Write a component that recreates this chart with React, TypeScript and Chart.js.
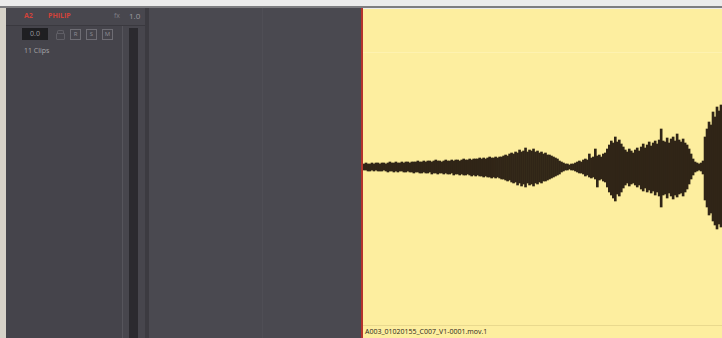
import React, { useEffect, useRef } from "react";
import { Chart, registerables } from "chart.js";
Chart.register(...registerables);

// Waveform envelope, sampled every ~2px across the clip (amplitude in px from centre)
const upper = [
  3, 4, 3, 3, 4, 3, 4, 4, 3, 4, 4, 3, 4, 5, 4, 4, 5, 4, 4, 5, 4, 5, 5, 4, 5, 5,
  5, 6, 5, 5, 6, 5, 6, 6, 5, 6, 7, 6, 6, 5, 6, 7, 6, 6, 7, 6, 7, 7, 6, 7, 8, 7, 7, 8, 7, 8,
  8, 8, 9, 8, 9, 8, 9, 10, 9, 9, 10, 9, 10, 10,
  11, 12, 11, 13, 14, 13, 15, 14, 17, 15, 16, 19, 15, 17, 16, 18, 15, 16, 14, 15, 13, 14, 12, 12, 11, 10, 9, 8, 6, 5,
  4, 3, 3, 2, 3, 3, 4,
  5, 6, 5, 7, 8, 7, 13, 9, 10, 18, 11, 12, 10, 13, 14,
  18, 22, 26, 24, 30, 25, 27, 23, 20,
  17, 15, 18, 16, 14, 17, 19, 16,
  20, 23, 19, 22, 25, 21, 24, 26, 23, 27,
  38, 26,
  25, 29, 24, 28, 30, 26, 33, 27, 25, 28, 24, 22, 18,
  13, 8, 5, 4, 3, 4, 6,
  30, 38, 45, 42, 55, 50, 60, 56, 62,
];
const lower = [
  3, 3, 4, 4, 3, 4, 3, 4, 4, 4, 3, 4, 5, 4, 4, 5, 4, 5, 4, 4, 5, 5, 4, 5, 5, 6,
  5, 5, 6, 6, 5, 6, 6, 5, 7, 6, 6, 7, 6, 6, 7, 6, 7, 7, 6, 8, 7, 7, 8, 7, 8, 8, 7, 8, 9, 8,
  9, 8, 9, 9, 10, 9, 10, 10, 11, 10, 11, 10, 11, 12,
  12, 13, 14, 13, 15, 16, 15, 18, 16, 19, 17, 20, 16, 18, 17, 19, 16, 17, 15, 16, 14, 14, 13, 12, 11, 10, 9, 8, 7, 5,
  4, 3, 3, 2, 3, 3, 4,
  5, 6, 6, 7, 9, 8, 10, 11, 10, 12, 20, 13, 12, 14, 15,
  20, 25, 28, 31, 34, 27, 29, 25, 21,
  18, 16, 19, 17, 16, 18, 20, 18,
  22, 24, 21, 25, 23, 26, 24, 28, 25, 29,
  40, 28,
  27, 31, 26, 29, 32, 28, 30, 27, 26, 29, 25, 22, 17,
  12, 8, 5, 4, 3, 4, 7,
  33, 40, 48, 46, 54, 58, 62, 57, 60,
];
const samples = upper.map((_, i) => String(i));

const trackName = "PHILIP";
const trackId = "A2";
const clipCount = "11 Clips";
const clipName = "A003_01020155_C007_V1-0001.mov.1";

const WAVE = "#302517";

function Waveform() {
  const ref = useRef<HTMLCanvasElement>(null);
  useEffect(() => {
    if (!ref.current) return;
    const chart = new Chart(ref.current, {
      type: "bar",
      data: {
        labels: samples,
        datasets: [
          {
            data: upper.map((u, i) => [-lower[i], u]),
            backgroundColor: WAVE,
            borderWidth: 0,
            barPercentage: 1,
            categoryPercentage: 1,
          },
        ],
      },
      options: {
        responsive: false,
        animation: false,
        layout: { padding: 0 },
        plugins: { legend: { display: false }, tooltip: { enabled: false } },
        scales: {
          x: { display: false },
          y: { display: false, min: -158, max: 158 },
        },
      },
    });
    return () => chart.destroy();
  }, []);
  return (
    <canvas
      ref={ref}
      width={359}
      height={316}
      style={{ position: "absolute", left: 0, top: 0, width: 359, height: 316 }}
    />
  );
}

const font = "'Open Sans', 'DejaVu Sans', sans-serif";

function Btn({ x, t }: { x: number; t: string }) {
  return (
    <div
      style={{
        position: "absolute",
        left: x,
        top: 29,
        width: 9,
        height: 9,
        border: "1px solid #6e6d74",
        color: "#8e8d94",
        fontSize: 6,
        lineHeight: "9px",
        textAlign: "center",
        fontFamily: font,
      }}
    >
      {t}
    </div>
  );
}

export default function App() {
  useEffect(() => {
    document.body.style.margin = "0";
  }, []);
  return (
    <div
      style={{
        position: "fixed",
        left: 0,
        top: 0,
        width: 722,
        height: 338,
        overflow: "hidden",
        background: "#ebebeb",
        fontFamily: font,
      }}
    >
      <div style={{ position: "absolute", left: 0, top: 6, width: 722, height: 2, background: "#7d7d80" }} />
      <div style={{ position: "absolute", left: 0, top: 8, width: 6, height: 330, background: "#d6d2c8" }} />
      <div style={{ position: "absolute", left: 6, top: 8, width: 117, height: 330, background: "#45444b" }} />
      <div style={{ position: "absolute", left: 6, top: 8, width: 140, height: 17, background: "#48474e", borderBottom: "1px solid #3a393f" }} />
      <div style={{ position: "absolute", left: 24, top: 11, fontSize: 7, color: "#d2423a", fontWeight: 700 }}>{trackId}</div>
      <div style={{ position: "absolute", left: 48, top: 11, fontSize: 7, color: "#d2423a", fontWeight: 700 }}>{trackName}</div>
      <div style={{ position: "absolute", left: 114, top: 11, fontSize: 7, color: "#7f7e85" }}>fx</div>
      <div style={{ position: "absolute", left: 129, top: 10, fontSize: 8, color: "#9c9ba1" }}>1.0</div>
      <div
        style={{
          position: "absolute",
          left: 22,
          top: 28,
          width: 26,
          height: 12,
          background: "#1f1f22",
          color: "#9a999f",
          fontSize: 7,
          lineHeight: "12px",
          textAlign: "center",
        }}
      >
        0.0
      </div>
      <div style={{ position: "absolute", left: 56, top: 33, width: 7, height: 5, border: "1px solid #5f5e65", borderRadius: 1 }} />
      <div style={{ position: "absolute", left: 57, top: 30, width: 5, height: 3, borderTop: "1px solid #5f5e65", borderLeft: "1px solid #5f5e65", borderRight: "1px solid #5f5e65", borderRadius: "2px 2px 0 0" }} />
      <Btn x={70} t="R" />
      <Btn x={86} t="S" />
      <Btn x={102} t="M" />
      <div style={{ position: "absolute", left: 24, top: 46, fontSize: 7, color: "#a6a5aa" }}>{clipCount}</div>
      <div style={{ position: "absolute", left: 122, top: 26, width: 1, height: 312, background: "#56555c" }} />
      <div style={{ position: "absolute", left: 123, top: 26, width: 23, height: 312, background: "#47464d" }} />
      <div style={{ position: "absolute", left: 129, top: 28, width: 9, height: 310, background: "#2b2a2f" }} />
      <div style={{ position: "absolute", left: 145, top: 8, width: 4, height: 330, background: "#3c3b41" }} />
      <div style={{ position: "absolute", left: 149, top: 8, width: 213, height: 330, background: "#4a4950" }} />
      <div style={{ position: "absolute", left: 262, top: 8, width: 1, height: 330, background: "#4f4e55" }} />
      <div style={{ position: "absolute", left: 361, top: 8, width: 2, height: 330, background: "#b3332c" }} />
      <div style={{ position: "absolute", left: 363, top: 9, width: 359, height: 329, background: "#fdee9f" }}>
        <div style={{ position: "absolute", left: 0, top: 43, width: 359, height: 1, background: "#fef2b0" }} />
        <Waveform />
        <div style={{ position: "absolute", left: 0, top: 316, width: 359, height: 1, background: "#e9d98e" }} />
        <div style={{ position: "absolute", left: 2, top: 318, fontSize: 7, color: "#2a2418", whiteSpace: "nowrap" }}>{clipName}</div>
      </div>
    </div>
  );
}
